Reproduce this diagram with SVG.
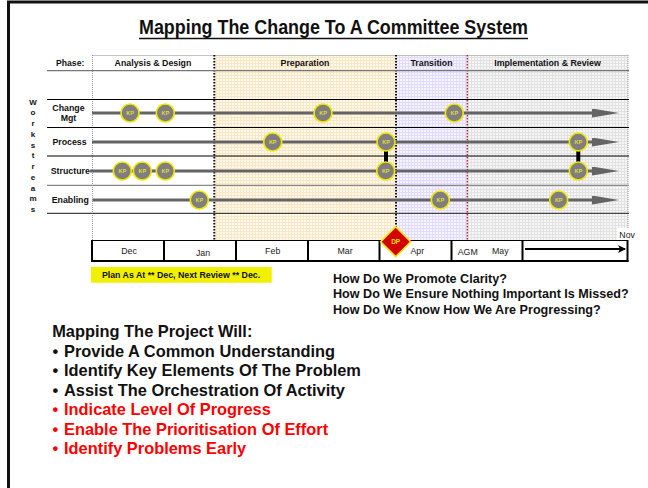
<svg xmlns="http://www.w3.org/2000/svg" width="648" height="488" viewBox="0 0 648 488">
<defs>
<style>
text{font-family:"Liberation Sans",Arial,sans-serif}
.ph{font-size:8.8px;font-weight:bold;fill:#111;text-anchor:middle}
.rl{font-size:8.8px;font-weight:bold;fill:#111;text-anchor:middle}
.ws{font-size:8px;font-weight:bold;fill:#111;text-anchor:middle}
.mo{font-size:8.8px;fill:#222;text-anchor:middle}
.kp circle{fill:#7f7f7f;stroke:#f2e600;stroke-width:1.6}
.kp text{font-size:5.5px;font-weight:bold;fill:#e2d83a;text-anchor:middle}
.wl{stroke:#646464;stroke-width:3;fill:none;marker-end:url(#ah)}
.wn{stroke:#646464;stroke-width:3;fill:none}
.vb{stroke:#000;stroke-width:4}
.q{font-size:12.6px;font-weight:bold;fill:#111}
.bl{font-size:16.4px;font-weight:bold;fill:#111}
.red{fill:#ff0000}
.div{stroke:#000;stroke-width:2}
</style>
<pattern id="pPrep" width="3" height="3" patternUnits="userSpaceOnUse"><rect width="3" height="3" fill="#fff9ee"/><path d="M0 0.5H3M0.5 0V3" stroke="#f9e6c4" stroke-width="1"/></pattern>
<pattern id="pTran" width="3" height="3" patternUnits="userSpaceOnUse"><rect width="3" height="3" fill="#f6f4ff"/><path d="M0 0.5H3M0.5 0V3" stroke="#e0dbff" stroke-width="1"/></pattern>
<pattern id="pImp" width="3" height="3" patternUnits="userSpaceOnUse"><rect width="3" height="3" fill="#f6f6f6"/><path d="M0 0.5H3M0.5 0V3" stroke="#e2e2e2" stroke-width="1"/></pattern>
<marker id="ah" markerUnits="userSpaceOnUse" viewBox="0 0 27 9" refX="0" refY="4.5" markerWidth="27" markerHeight="9" orient="auto"><path d="M0 0L27 4.5L0 9Z" fill="#646464"/></marker>
<marker id="ma" markerUnits="userSpaceOnUse" viewBox="0 0 8 8" refX="7" refY="4" markerWidth="8" markerHeight="8" orient="auto"><path d="M0 0L8 4L0 8L2 4Z" fill="#000"/></marker>
</defs>

<rect x="0" y="0" width="648" height="488" fill="#fff"/>
<rect id="frame" x="8.5" y="2" width="700" height="600" fill="none" stroke="#111" stroke-width="3"/>

<g id="title">
<text x="139" y="33.5" font-size="20" font-weight="bold" fill="#111" textLength="389" lengthAdjust="spacingAndGlyphs">Mapping The Change To A Committee System</text>
<line x1="139" y1="38.5" x2="528" y2="38.5" stroke="#111" stroke-width="1.6"/>
</g>

<g id="phases">
<rect x="92.5" y="55.5" width="121.5" height="184.5" fill="#fff"/>
<rect x="214" y="55.5" width="182" height="184.5" fill="url(#pPrep)"/>
<rect x="396" y="55.5" width="71" height="184.5" fill="url(#pTran)"/>
<rect x="467" y="55.5" width="161" height="184.5" fill="url(#pImp)"/>
<line x1="92.5" y1="55.5" x2="628" y2="55.5" stroke="#888" stroke-dasharray="1 1"/>
<line x1="92.5" y1="55" x2="92.5" y2="240" stroke="#999" stroke-dasharray="1 1"/>
<line x1="214.3" y1="55" x2="214.3" y2="240" stroke="#111" stroke-width="2" stroke-dasharray="1.5 1.5"/>
<line x1="396" y1="55" x2="396" y2="240" stroke="#111" stroke-width="2" stroke-dasharray="1.5 1.5"/>
<line x1="467.3" y1="55" x2="467.3" y2="240" stroke="#b03030" stroke-width="1.5" stroke-dasharray="1.5 1.5"/>
<line x1="628" y1="55" x2="628" y2="240" stroke="#999" stroke-dasharray="1 1"/>
<text x="84.3" y="65.5" font-size="8.6" font-weight="bold" fill="#111" text-anchor="end">Phase:</text>
<text class="ph" x="153" y="65.5">Analysis &amp; Design</text>
<text class="ph" x="305" y="65.5">Preparation</text>
<text class="ph" x="431.5" y="65.5">Transition</text>
<text class="ph" x="547.5" y="65.5">Implementation &amp; Review</text>
</g>

<g id="grid">
<line x1="47" y1="70.7" x2="629" y2="70.7" stroke="#777" stroke-width="1.2"/>
<line x1="47" y1="99.5" x2="629" y2="99.5" stroke="#000" stroke-width="1.2"/>
<line x1="47" y1="127.5" x2="629" y2="127.5" stroke="#000" stroke-width="1.2"/>
<line x1="47" y1="156" x2="629" y2="156" stroke="#000" stroke-width="1.2"/>
<line x1="47" y1="185.3" x2="629" y2="185.3" stroke="#888" stroke-width="1.2"/>
<line x1="47" y1="213.3" x2="629" y2="213.3" stroke="#444" stroke-width="1.2"/>
</g>

<g id="workstreams-label">
<text class="ws" x="33" y="104.5">W</text>
<text class="ws" x="33" y="115.2">o</text>
<text class="ws" x="33" y="126">r</text>
<text class="ws" x="33" y="136.7">k</text>
<text class="ws" x="33" y="147.5">s</text>
<text class="ws" x="33" y="158.2">t</text>
<text class="ws" x="33" y="169">r</text>
<text class="ws" x="33" y="179.7">e</text>
<text class="ws" x="33" y="190.5">a</text>
<text class="ws" x="33" y="201.2">m</text>
<text class="ws" x="33" y="212">s</text>
</g>

<g id="row-labels">
<text class="rl" x="68.5" y="111.3">Change</text>
<text class="rl" x="68.5" y="121.3">Mgt</text>
<text class="rl" x="69.5" y="145.2">Process</text>
<text class="rl" x="70.3" y="174.2">Structure</text>
<text class="rl" x="70.3" y="203.4">Enabling</text>
</g>

<g id="connectors">
<line class="wl" x1="92" y1="113" x2="592" y2="113"/>
<line class="wl" x1="92" y1="142" x2="592" y2="142"/>
<line class="wl" x1="90" y1="171" x2="592" y2="171"/>
<line class="wl" x1="92.5" y1="200" x2="592" y2="200"/>
<line class="vb" x1="386" y1="150" x2="386" y2="163"/>
<line class="vb" x1="578.3" y1="150" x2="578.3" y2="163"/>
</g>

<g id="kp-change" class="kp">
<circle cx="130" cy="113" r="9"/><text x="130" y="115">KP</text>
<circle cx="165.3" cy="113" r="9"/><text x="165.3" y="115">KP</text>
<circle cx="323" cy="113" r="9"/><text x="323" y="115">KP</text>
<circle cx="454.3" cy="113" r="9"/><text x="454.3" y="115">KP</text>
</g>
<g id="kp-process" class="kp">
<circle cx="272.7" cy="142" r="9"/><text x="272.7" y="144">KP</text>
<circle cx="386" cy="142" r="9"/><text x="386" y="144">KP</text>
<circle cx="578.3" cy="142" r="9"/><text x="578.3" y="144">KP</text>
</g>
<g id="kp-structure" class="kp">
<circle cx="122.3" cy="171" r="9"/><text x="122.3" y="173">KP</text>
<circle cx="142.3" cy="171" r="9"/><text x="142.3" y="173">KP</text>
<circle cx="165.3" cy="171" r="9"/><text x="165.3" y="173">KP</text>
<circle cx="385.7" cy="171" r="9"/><text x="385.7" y="173">KP</text>
<circle cx="578.3" cy="171" r="9"/><text x="578.3" y="173">KP</text>
</g>
<g id="kp-enabling" class="kp">
<circle cx="199.3" cy="200" r="9"/><text x="199.3" y="202">KP</text>
<circle cx="440.3" cy="200" r="9"/><text x="440.3" y="202">KP</text>
<circle cx="558.7" cy="200" r="9"/><text x="558.7" y="202">KP</text>
</g>

<g id="months">
<rect x="617" y="228" width="19" height="12" fill="#fff"/>
<text x="619.3" y="237.8" font-size="8.8" fill="#222">Nov</text>
<rect x="92" y="240.5" width="535.5" height="20.5" fill="#fff"/>
<line x1="92" y1="240.5" x2="628" y2="240.5" stroke="#000" stroke-width="1"/>
<line x1="91" y1="261" x2="628.5" y2="261" stroke="#000" stroke-width="2"/>
<line class="div" x1="92" y1="240" x2="92" y2="262"/>
<line class="div" x1="164" y1="240" x2="164" y2="262"/>
<line class="div" x1="236" y1="240" x2="236" y2="262"/>
<line class="div" x1="308" y1="240" x2="308" y2="262"/>
<line class="div" x1="379.5" y1="240" x2="379.5" y2="262"/>
<line class="div" x1="451.5" y1="240" x2="451.5" y2="262"/>
<line class="div" x1="522.5" y1="240" x2="522.5" y2="262"/>
<line class="div" x1="627.5" y1="240" x2="627.5" y2="262"/>
<text class="mo" x="129" y="254">Dec</text>
<text class="mo" x="203" y="255.5">Jan</text>
<text class="mo" x="272.7" y="254">Feb</text>
<text class="mo" x="345" y="254">Mar</text>
<text class="mo" x="417.3" y="254">Apr</text>
<text class="mo" x="467.7" y="255.3">AGM</text>
<text class="mo" x="500.3" y="254">May</text>
<line x1="525" y1="249" x2="625" y2="249" stroke="#000" stroke-width="1.8" marker-end="url(#ma)"/>
</g>

<g id="dp">
<path d="M395.7 226.7L410.7 241.7L395.7 256.7L380.7 241.7Z" fill="#d40000" stroke="#f2e600" stroke-width="1.6"/>
<text x="395.7" y="243.8" font-size="6.5" font-weight="bold" fill="#f2e600" text-anchor="middle">DP</text>
</g>

<g id="plan-note">
<rect x="91" y="267" width="180.7" height="15.7" fill="#f0f000"/>
<text x="181" y="278" font-size="8.8" font-weight="bold" fill="#111" text-anchor="middle">Plan As At ** Dec, Next Review ** Dec.</text>
</g>

<g id="questions">
<text class="q" x="333" y="283">How Do We Promote Clarity?</text>
<text class="q" x="333" y="298.3">How Do We Ensure Nothing Important Is Missed?</text>
<text class="q" x="333" y="313.6">How Do We Know How We Are Progressing?</text>
</g>

<g id="bullets">
<text class="bl" x="52.2" y="337">Mapping The Project Will:</text>
<text class="bl" x="52.5" y="356.7">•</text><text class="bl" x="64" y="356.7">Provide A Common Understanding</text>
<text class="bl" x="52.5" y="376">•</text><text class="bl" x="64" y="376">Identify Key Elements Of The Problem</text>
<text class="bl" x="52.5" y="395.6">•</text><text class="bl" x="64" y="395.6">Assist The Orchestration Of Activity</text>
<text class="bl red" x="52.5" y="415.2">•</text><text class="bl red" x="64" y="415.2">Indicate Level Of Progress</text>
<text class="bl red" x="52.5" y="434.7">•</text><text class="bl red" x="64" y="434.7">Enable The Prioritisation Of Effort</text>
<text class="bl red" x="52.5" y="454.2">•</text><text class="bl red" x="64" y="454.2">Identify Problems Early</text>
</g>
</svg>
